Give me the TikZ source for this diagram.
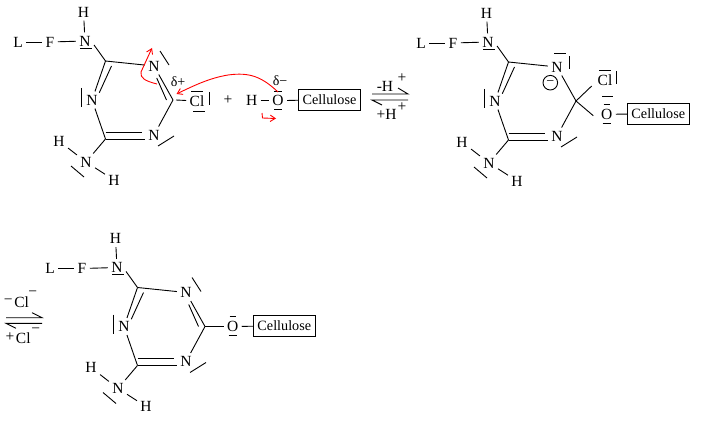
\documentclass[tikz,border=0pt]{standalone}
\usepackage{fontspec}
\usetikzlibrary{arrows.meta}
\setmainfont{Liberation Serif}
\tikzset{
    atom/.style={inner sep=3pt, font=\fontsize{15.5}{15.5}\selectfont},
    note/.style={inner sep=0pt, font=\fontsize{14}{14}\selectfont},
    cellbox/.style={draw, line width=0.9pt, minimum width=62pt, minimum height=21pt, inner sep=0pt, font=\fontsize{14.2}{14.2}\selectfont},
    redarrow/.style={red, line width=0.9pt, -{Straight Barb[length=5pt, width=6.5pt]}},
}
% left half of the ring, with its NH groups, and the parts every ring shares
\newcommand{\ringpart}{
    \node [atom] (nH) at (83.5, 12) {H};
    \node [atom] (nL) at (18, 42) {L};
    \node [atom] (nF) at (50, 42) {F};
    \node [atom] (nA) at (85, 41) {N};
    \coordinate (cA) at (105.5, 61);
    \node [atom] (nB) at (92, 100) {N};
    \coordinate (cB) at (105.5, 139);
    \node [atom] (nC) at (86, 162) {N};
    \node [atom] (hA) at (59, 141) {H};
    \node [atom] (hB) at (114, 180) {H};
    \node [atom] (nTop) at (154, 66) {N};
    \coordinate (cR) at (173, 100);
    \node [atom] (nBot) at (154, 135) {N};
    \draw (nL) -- (nF);
    \draw (nF) -- (nA);
    \draw (nH) -- (nA);
    \draw ([shift={(-5, 7)}]nA.center) -- +(12, 0);
    \draw ([yshift=-4pt]nA.east) -- (cA);
    \draw (cA) -- (nB);
    \draw ([shift={(6, 5)}]cA) -- ([shift={(7.3, -7.3)}]nB.center);
    \draw ([shift={(-10.5, -12)}]nB.center) -- +(0, 19);
    \draw (nB) -- (cB);
    \draw (cB) -- (nC);
    \draw (hA) -- (nC);
    \draw (nC) -- (hB);
    \draw ([shift={(-15, 4)}]nC.center) -- +(13, 11);
    \draw (cA) -- (nTop);
    \draw (cB) -- (nBot.west |- cB);
    \draw ([yshift=6.7pt]cB) -- ([xshift=-3pt, yshift=2.7pt]nBot.west);
    \draw (nBot) -- (cR);
    \draw ([shift={(4, 11)}]nBot.center) -- +(16, -10);
}
\begin{document}
\begin{tikzpicture}[x=1pt, y=-1pt, line width=0.9pt]
    \useasboundingbox (0, 0) rectangle (718, 436);

    % first ring
    \begin{scope}[name prefix=a-]
        \ringpart
        \draw ([shift={(6, -15)}]nTop.center) -- +(9, 14);
        \draw (nTop) -- (cR);
        \draw ([shift={(2.7, 12)}]nTop.center) -- ([xshift=-6.5pt]cR);
        \node [atom] (cl) at (197, 101) {Cl};
        \draw ([xshift=3pt]cR) -- (cl);
        \draw ([shift={(-6, -10)}]cl.center) -- +(12, 0);
        \draw ([shift={(-4, 10)}]cl.center) -- +(12, 0);
        \draw ([shift={(12, -9)}]cl.center) -- +(0, 13);
        \node [note] (dPlus) at (178, 82) {δ+};
    \end{scope}
    \node [atom] (plus) at (228, 100) {+};
    \node [atom] (hO) at (251.7, 100.7) {H};
    \node [atom] (oO) at (278, 100.7) {O};
    \node [cellbox] (boxA) at (329.5, 99.5) {Cellulose};
    \node [note] (dMinus) at (280, 81) {δ−};
    \draw (hO) -- (oO);
    \draw (oO) -- (boxA);
    \draw ([shift={(-4, -9)}]oO.center) -- +(8, 0);
    \draw ([shift={(-4, 8.5)}]oO.center) -- +(8, 0);

    % electron arrows
    \coordinate (ringStart) at (157, 84);
    \coordinate (ringEnd) at (152, 48);
    \coordinate (oStart) at (278, 92);
    \coordinate (clEnd) at (176.5, 94);
    \coordinate (hStart) at (262, 113);
    \coordinate (hEnd) at (276, 118.5);
    \draw [redarrow] (ringStart) .. controls (145, 81) and (140, 78) .. (141, 72) -- (ringEnd);
    \draw [redarrow] (oStart) .. controls (262, 77) and (250, 72) .. (228, 75) .. controls (210, 78) and (195, 85) .. (clEnd);
    \draw [redarrow] (hStart) -- (262.5, 118) -- (hEnd);

    % first equilibrium
    \coordinate (eqA) at (372, 94);
    \coordinate (eqB) at (408, 94);
    \coordinate (eqC) at (372, 100);
    \coordinate (eqD) at (408, 100);
    \draw (eqA) -- (eqB) -- +(-10, -6);
    \draw (eqD) -- (eqC) -- +(10, 5);
    \node [atom, inner sep=0pt] (loseH) at (385, 86) {-H};
    \node [atom, inner sep=0pt] (loseP) at (402, 78) {+};
    \node [atom, inner sep=0pt] (gainH) at (386.5, 114) {+H};
    \node [atom, inner sep=0pt] (gainP) at (402, 107) {+};

    % second ring
    \begin{scope}[shift={(403, 1)}, name prefix=b-]
        \ringpart
        \draw ([shift={(-3, -14)}]nTop.center) -- +(12, 0);
        \draw ([shift={(12, -11)}]nTop.center) -- +(0, 13);
        \node [draw, circle, minimum size=14.6pt, inner sep=0pt, font=\fontsize{14}{14}\selectfont] (minus) at (147.3, 81.7) {−};
        \draw (nTop) -- (cR);
        \node [atom] (cl) at (202, 79) {Cl};
        \node [atom] (oO) at (203.7, 113.3) {O};
        \node [cellbox] (boxB) at (255.3, 112.8) {Cellulose};
        \draw (cR) -- ([shift={(-13.3, 6)}]cl.center);
        \draw (cR) -- ([shift={(-13.4, 1.4)}]oO.center);
        \draw (oO) -- (boxB);
        \draw ([shift={(-6, -10)}]cl.center) -- +(12, 0);
        \draw ([shift={(-3, 16)}]cl.center) -- +(11, 0);
        \draw ([shift={(11, -9)}]cl.center) -- +(0, 13);
        \draw ([shift={(-3, -10)}]oO.center) -- +(6, 0);
        \draw ([shift={(-4, 9)}]oO.center) -- +(8, 0);
    \end{scope}

    % second equilibrium
    \coordinate (eqE) at (6, 317.7);
    \coordinate (eqF) at (42, 317.7);
    \coordinate (eqG) at (6, 323.3);
    \coordinate (eqH) at (42, 323.3);
    \draw (eqE) -- (eqF) -- +(-10, -5);
    \draw (eqH) -- (eqG) -- +(10, 5);
    \node [atom, inner sep=0pt] (loseM) at (8.3, 302) {−};
    \node [atom, inner sep=0pt] (loseCl) at (21.7, 302.3) {Cl};
    \node [atom, inner sep=0pt] (loseC) at (32.7, 294) {−};
    \node [atom, inner sep=0pt] (gainM) at (10, 337) {+};
    \node [atom, inner sep=0pt] (gainCl) at (23.3, 338.3) {Cl};
    \node [atom, inner sep=0pt] (gainC) at (35.7, 331) {−};

    % third ring
    \begin{scope}[shift={(32, 226.5)}, name prefix=c-]
        \ringpart
        \draw ([shift={(6, -15)}]nTop.center) -- +(9, 14);
        \draw (nTop) -- (cR);
        \draw ([shift={(2.7, 12)}]nTop.center) -- ([xshift=-6.5pt]cR);
        \node [atom] (oO) at (200.7, 100) {O};
        \node [cellbox] (boxC) at (252.3, 99.3) {Cellulose};
        \draw (cR) -- (oO);
        \draw (oO) -- (boxC);
        \draw ([shift={(-3, -10)}]oO.center) -- +(6, 0);
        \draw ([shift={(-4, 9)}]oO.center) -- +(8, 0);
    \end{scope}
\end{tikzpicture}
\end{document}
